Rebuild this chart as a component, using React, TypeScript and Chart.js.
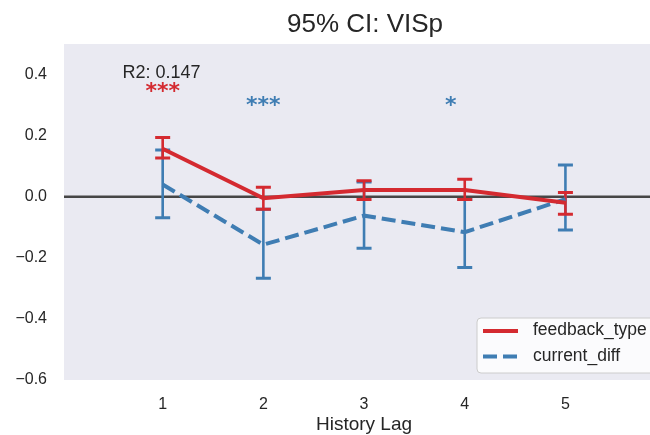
import React, { useEffect, useRef } from "react";
import { Chart, registerables } from "chart.js";

Chart.register(...registerables);

// ---- data ----
const lags = [1, 2, 3, 4, 5];
const feedbackMean = [0.157, -0.005, 0.022, 0.022, -0.02];
const feedbackLo = [0.127, -0.041, -0.009, -0.009, -0.057];
const feedbackHi = [0.194, 0.031, 0.052, 0.057, 0.014];
const currentMean = [0.04, -0.157, -0.062, -0.116, -0.008];
const currentLo = [-0.069, -0.267, -0.169, -0.232, -0.109];
const currentHi = [0.153, -0.041, 0.048, -0.009, 0.104];
const yTicks = [-0.6, -0.4, -0.2, 0.0, 0.2, 0.4];
const starX = [1, 2, 3.86];
const starY = [0.359, 0.313, 0.313];
const starText = ["***", "***", "*"];
const starSeries = ["feedback_type", "current_diff", "current_diff"];
const r2Text = "R2: 0.147";
const r2X = 0.6;
const r2Y = 0.405;
const titleText = "95% CI: VISp";
const xLabel = "History Lag";
const seriesNames = ["feedback_type", "current_diff"];

const RED = "#d42a30";
const BLUE = "#3f7db3";
const FONT = '"Liberation Sans", Arial, sans-serif';
const TEXT = "#262626";

const overlay = {
  id: "overlay",
  beforeDraw(chart: any) {
    const { ctx, chartArea: a } = chart;
    ctx.save();
    ctx.fillStyle = "#ffffff";
    ctx.fillRect(0, 0, chart.width, chart.height);
    ctx.fillStyle = "#eaeaf2";
    ctx.fillRect(a.left, a.top, a.right - a.left, a.bottom - a.top);
    ctx.restore();
  },
  beforeDatasetsDraw(chart: any) {
    const { ctx, chartArea: a, scales } = chart;
    const xs = scales.x, ys = scales.y;
    ctx.save();
    // zero line
    ctx.strokeStyle = "#464646";
    ctx.lineWidth = 2.5;
    ctx.beginPath();
    ctx.moveTo(a.left, ys.getPixelForValue(0));
    ctx.lineTo(a.right, ys.getPixelForValue(0));
    ctx.stroke();
    const drawErr = (lo: number[], hi: number[], color: string) => {
      ctx.strokeStyle = color;
      lags.forEach((l, i) => {
        const px = xs.getPixelForValue(l);
        const y1 = ys.getPixelForValue(lo[i]);
        const y2 = ys.getPixelForValue(hi[i]);
        ctx.lineWidth = 2.6;
        ctx.beginPath();
        ctx.moveTo(px, y1);
        ctx.lineTo(px, y2);
        ctx.stroke();
        ctx.lineWidth = 3;
        ctx.beginPath();
        ctx.moveTo(px - 7.5, y1);
        ctx.lineTo(px + 7.5, y1);
        ctx.moveTo(px - 7.5, y2);
        ctx.lineTo(px + 7.5, y2);
        ctx.stroke();
      });
    };
    drawErr(currentLo, currentHi, BLUE);
    drawErr(feedbackLo, feedbackHi, RED);
    ctx.restore();
  },
  afterDatasetsDraw(chart: any) {
    const { ctx, chartArea: a, scales } = chart;
    const xs = scales.x, ys = scales.y;
    ctx.save();
    // stars
    ctx.font = `bold 22px "DejaVu Sans", sans-serif`;
    ctx.textAlign = "center";
    ctx.textBaseline = "alphabetic";
    starText.forEach((t, i) => {
      ctx.fillStyle = starSeries[i] === "feedback_type" ? RED : BLUE;
      ctx.fillText(t, xs.getPixelForValue(starX[i]), ys.getPixelForValue(starY[i]) + 11);
    });
    // R2 text
    ctx.font = `18px ${FONT}`;
    ctx.fillStyle = TEXT;
    ctx.textAlign = "left";
    ctx.textBaseline = "middle";
    ctx.fillText(r2Text, xs.getPixelForValue(r2X), ys.getPixelForValue(r2Y));
    // legend
    const lx = 477, ly = 318, lw = 200, lh = 55;
    ctx.beginPath();
    ctx.roundRect(lx, ly, lw, lh, 4);
    ctx.fillStyle = "rgba(255,255,255,0.8)";
    ctx.fill();
    ctx.strokeStyle = "#cccccc";
    ctx.lineWidth = 1;
    ctx.stroke();
    ctx.lineWidth = 4;
    ctx.strokeStyle = RED;
    ctx.beginPath();
    ctx.moveTo(483, 331);
    ctx.lineTo(518, 331);
    ctx.stroke();
    ctx.strokeStyle = BLUE;
    ctx.setLineDash([14, 6]);
    ctx.beginPath();
    ctx.moveTo(483, 356.5);
    ctx.lineTo(518, 356.5);
    ctx.stroke();
    ctx.setLineDash([]);
    ctx.font = `17.5px ${FONT}`;
    ctx.fillStyle = TEXT;
    ctx.textBaseline = "middle";
    ctx.fillText(seriesNames[0], 533, 330);
    ctx.fillText(seriesNames[1], 533, 356);
    ctx.restore();
  },
  afterDraw(chart: any) {
    const { ctx } = chart;
    ctx.save();
    ctx.fillStyle = TEXT;
    ctx.textAlign = "center";
    ctx.textBaseline = "middle";
    ctx.font = `26px ${FONT}`;
    ctx.fillText(titleText, 365, 25);
    ctx.font = `19px ${FONT}`;
    ctx.fillText(xLabel, 364, 425);
    ctx.restore();
  },
};

export default function App() {
  const ref = useRef<HTMLCanvasElement>(null);
  useEffect(() => {
    if (!ref.current) return;
    const chart = new Chart(ref.current, {
      type: "line",
      data: {
        datasets: [
          {
            label: seriesNames[0],
            data: lags.map((l, i) => ({ x: l, y: feedbackMean[i] })),
            borderColor: RED,
            borderWidth: 4,
            pointRadius: 0,
            order: 0,
          },
          {
            label: seriesNames[1],
            data: lags.map((l, i) => ({ x: l, y: currentMean[i] })),
            borderColor: BLUE,
            borderWidth: 4,
            borderDash: [14, 6],
            pointRadius: 0,
            order: 1,
          },
        ],
      },
      options: {
        animation: false,
        responsive: false,
        layout: { padding: { top: 44, left: 0, right: 0, bottom: 0 } },
        plugins: { legend: { display: false }, tooltip: { enabled: false }, title: { display: false } },
        scales: {
          x: {
            type: "linear",
            min: 0.02,
            max: 5.84,
            grid: { display: false, drawTicks: false },
            border: { display: false },
            afterBuildTicks: (axis: any) => {
              axis.ticks = lags.map((v) => ({ value: v }));
            },
            afterFit: (s: any) => {
              s.height = 55;
            },
            ticks: {
              padding: 15,
              autoSkip: false,
              maxRotation: 0,
              color: TEXT,
              font: { family: FONT, size: 16 },
              callback: (v: any) => String(v),
            },
          },
          y: {
            min: -0.6,
            max: 0.5,
            grid: { display: false, drawTicks: false },
            border: { display: false },
            afterBuildTicks: (axis: any) => {
              axis.ticks = yTicks.map((v) => ({ value: v }));
            },
            afterFit: (s: any) => {
              s.width = 64;
            },
            ticks: {
              padding: 17,
              color: TEXT,
              font: { family: FONT, size: 16 },
              callback: (v: any) => {
                const n = Number(v);
                const s = Math.abs(n).toFixed(1);
                return n < -1e-9 ? "\u2212" + s : s;
              },
            },
          },
        },
      },
      plugins: [overlay],
    } as any);
    return () => chart.destroy();
  }, []);
  return (
    <div style={{ position: "fixed", left: 0, top: 0, width: 650, height: 435, overflow: "hidden" }}>
      <canvas ref={ref} width={650} height={435} style={{ display: "block", width: 650, height: 435 }} />
    </div>
  );
}
